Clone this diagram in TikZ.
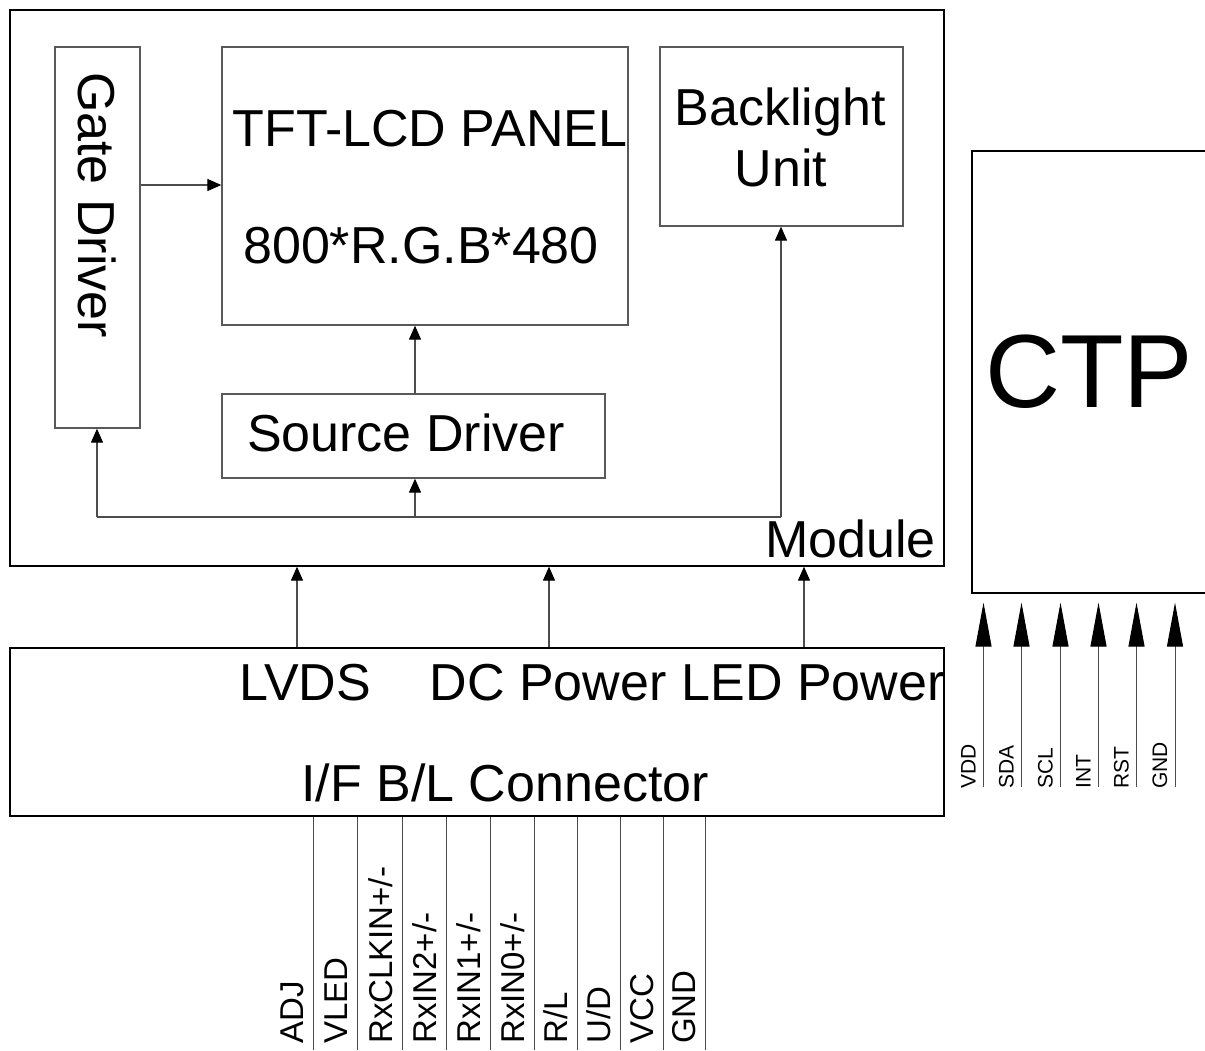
\documentclass[tikz,border=0pt]{standalone}
\usepackage{fontspec}
\setmainfont{Liberation Sans}
\usetikzlibrary{arrows.meta}
\begin{document}
\begin{tikzpicture}[x=1pt,y=-1pt,
  ibox/.style={draw=black!65,line width=1.3pt,inner sep=0pt},
  obox/.style={draw=black,line width=1.3pt,inner sep=0pt},
  wire/.style={draw=black!70,line width=1.2pt},
  arr/.style={wire,-{Triangle[width=12pt,length=14pt,black]}},
  bigarr/.style={wire,-{Triangle[width=16pt,length=44pt,black]}},
  big/.style={font=\fontsize{52}{52}\selectfont},
  huge/.style={font=\fontsize{104}{104}\selectfont},
  pin/.style={font=\fontsize{33}{33}\selectfont,rotate=90,anchor=base west,inner sep=0pt},
  cpin/.style={font=\fontsize{21}{21}\selectfont,rotate=90,anchor=base west,inner sep=0pt}]
\useasboundingbox (0,0) rectangle (1205,1050);
% boxes
\node[obox,minimum width=934pt,minimum height=556pt] (module) at (477,288) {};
\node[ibox,minimum width=85pt,minimum height=381pt] (gate) at (97.5,237.5) {};
\node[ibox,minimum width=406pt,minimum height=278pt] (tft) at (425,186) {};
\node[ibox,minimum width=243pt,minimum height=179pt] (bl) at (781.5,136.5) {};
\node[ibox,minimum width=383pt,minimum height=84pt] (src) at (413.5,436) {};
\node[obox,minimum width=934pt,minimum height=168pt] (conn) at (477,732) {};
\node[obox,minimum width=250pt,minimum height=442pt] (ctp) at (1097,372) {};
% texts
\node[big,rotate=-90,inner sep=0pt] (tgate) at (97,205) {Gate Driver};
\node[big,anchor=base,inner sep=0pt] (ttft) at (430,146) {TFT-LCD PANEL};
\node[big,anchor=base,inner sep=0pt] (tres) at (421,263) {800*R.G.B*480};
\node[big,anchor=base,inner sep=0pt] (tbl1) at (780,125) {Backlight};
\node[big,anchor=base,inner sep=0pt] (tbl2) at (781,186) {Unit};
\node[big,anchor=base,inner sep=0pt] (tsrc) at (406,451) {Source Driver};
\node[big,anchor=base east,inner sep=0pt] (tmod) at (936,557) {Module};
\node[big,anchor=base,inner sep=0pt] (tlvds) at (305,700) {LVDS};
\node[big,anchor=base,inner sep=0pt] (tdc) at (548,700) {DC Power};
\node[big,anchor=base,inner sep=0pt] (tled) at (813,700) {LED Power};
\node[big,anchor=base,inner sep=0pt] (tconn) at (505,801) {I/F B/L Connector};
\node[huge,anchor=base,inner sep=0pt] (tctp) at (1089,407) {CTP};
% inner connections
\coordinate (bus1) at (97,517);
\coordinate (bus2) at (415,517);
\coordinate (bus3) at (781,517);
\draw[arr] (gate.east|-0,185) -- (tft.west|-0,185);
\draw[arr] (bus2|-src.north) -- (bus2|-tft.south);
\draw[wire] (bus1) -- (bus3);
\draw[arr] (bus1) -- (bus1|-gate.south);
\draw[arr] (bus2) -- (bus2|-src.south);
\draw[arr] (bus3) -- (bus3|-bl.south);
% connector to module
\foreach \x/\n in {297/a,549/b,804/c}{
  \coordinate (m\n) at (\x,0);
  \draw[arr] (m\n|-conn.north) -- (m\n|-module.south);
}
% bottom pins
\foreach \x/\t [count=\i] in {313/{ADJ},357/{VLED},402/{RxCLKIN+/-},446.5/{RxIN2+/-},490/{RxIN1+/-},534.5/{RxIN0+/-},577/{R/L},620.5/{U/D},663/{VCC},705/{GND}}{
  \coordinate (p\i) at (\x,1050);
  \draw[wire,line width=1pt] (p\i|-conn.south) -- (p\i);
  \node[pin] (pl\i) at (\x-10,1044) {\t};
}
% CTP pins
\foreach \x/\t [count=\i] in {983.5/VDD,1021.5/SDA,1060.5/SCL,1098.5/INT,1136.5/RST,1175/GND}{
  \coordinate (c\i) at (\x,787);
  \draw[bigarr,line width=1pt] (c\i) -- ([yshift=-9pt]c\i|-ctp.south);
  \node[cpin] (cl\i) at (\x-8,789) {\t};
}
\end{tikzpicture}
\end{document}
